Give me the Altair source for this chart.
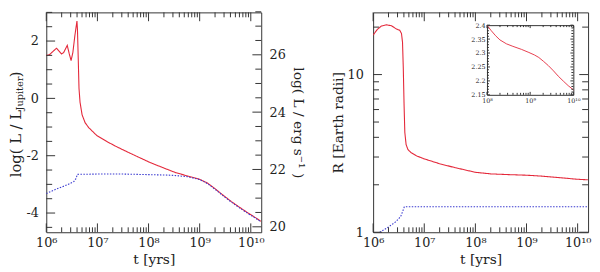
import altair as alt
import numpy as np
import pandas as pd

# ---------------- data ----------------
# left panel: log10(t/yr) and log(L/L_Jupiter)
lum_red_logt = [6.00, 6.06, 6.12, 6.20, 6.25, 6.30, 6.34, 6.41, 6.45, 6.485, 6.52, 6.56, 6.60,
                6.61, 6.625, 6.64, 6.66, 6.70, 6.76, 6.83, 6.99, 7.20, 7.38, 7.60, 8.02, 8.30,
                8.53, 8.75, 8.98, 9.15, 9.30, 9.46, 9.62, 9.78, 9.94, 10.10, 10.20]
lum_red = [1.50, 1.52, 1.62, 1.75, 1.65, 1.55, 1.60, 1.85, 1.55, 1.32, 1.60, 2.20, 2.70,
           2.40, 1.40, 0.35, -0.13, -0.57, -0.85, -1.02, -1.30, -1.52, -1.69, -1.88, -2.23, -2.43,
           -2.59, -2.70, -2.81, -2.95, -3.15, -3.38, -3.60, -3.80, -3.99, -4.17, -4.29]
lum_blue_logt = [6.00, 6.20, 6.42, 6.54, 6.58, 6.61, 7.00, 7.50, 8.00, 8.45, 8.75, 9.00, 9.15,
                 9.30, 9.46, 9.62, 9.78, 9.94, 10.10, 10.20]
lum_blue = [-3.32, -3.16, -3.01, -2.90, -2.80, -2.65, -2.64, -2.64, -2.66, -2.68, -2.73, -2.83,
            -2.97, -3.17, -3.40, -3.62, -3.82, -4.01, -4.19, -4.31]

# right panel: R in Earth radii
rad_red_logt = [6.00, 6.08, 6.16, 6.26, 6.36, 6.45, 6.52, 6.555, 6.575, 6.59, 6.605, 6.62, 6.645,
                6.68, 6.74, 6.85, 7.00, 7.30, 7.60, 8.00, 8.30, 8.60, 9.00, 9.30, 9.60, 10.00, 10.20]
rad_red = [17.8, 19.3, 20.3, 20.7, 20.4, 19.5, 19.1, 18.2, 16.0, 11.0, 6.5, 4.3, 3.6,
           3.35, 3.2, 3.05, 2.92, 2.72, 2.57, 2.40, 2.345, 2.323, 2.30, 2.27, 2.225, 2.168, 2.15]
rad_blue_logt = [6.13, 6.30, 6.45, 6.54, 6.58, 6.61, 10.20]
rad_blue = [1.00, 1.08, 1.17, 1.26, 1.36, 1.45, 1.45]

# inset (R between 1e8 and 1e10 yr)
inset_logt = [8.00, 8.10, 8.20, 8.30, 8.45, 8.60, 8.80, 8.97, 9.10, 9.20, 9.31, 9.42, 9.54,
              9.65, 9.77, 9.88, 10.00]
inset_r = [2.400, 2.380, 2.362, 2.347, 2.333, 2.324, 2.313, 2.302, 2.293, 2.284, 2.270, 2.255,
           2.236, 2.217, 2.199, 2.183, 2.168]

L_JUP_LOG_ERG = 24.48

# tick positions
x_major = [1e6, 1e7, 1e8, 1e9, 1e10]
x_minor = [k * 10.0 ** n for n in range(6, 10) for k in range(2, 10)]
lum_major = [-4, -2, 0, 2]
lum_minor = [v for v in np.arange(-4.5, 3.01, 0.5).round(1).tolist() if v not in lum_major]
erg_major = [20, 22, 24, 26]
erg_minor = [v for v in np.arange(20.0, 27.51, 0.5).round(1).tolist() if v not in erg_major]
r_major = [1, 10]
r_minor = [2, 3, 4, 5, 6, 7, 8, 9, 20]
in_x_major = [1e8, 1e9, 1e10]
in_x_minor = [k * 10.0 ** n for n in range(8, 10) for k in range(2, 10)]
in_y_major = [2.15, 2.2, 2.25, 2.3, 2.35, 2.4]
in_y_minor = [round(2.15 + 0.01 * i, 2) for i in range(26) if i % 5 != 0]

# ---------------- tables ----------------
lum = pd.concat([
    pd.DataFrame({"t": 10 ** np.array(lum_red_logt), "L": lum_red, "s": "a"}),
    pd.DataFrame({"t": 10 ** np.array(lum_blue_logt), "L": lum_blue, "s": "b"}),
], ignore_index=True)
rad = pd.concat([
    pd.DataFrame({"t": 10 ** np.array(rad_red_logt), "R": rad_red, "s": "a"}),
    pd.DataFrame({"t": 10 ** np.array(rad_blue_logt), "R": rad_blue, "s": "b"}),
], ignore_index=True)
ins = pd.DataFrame({"t": 10 ** np.array(inset_logt), "R": inset_r})

RED = "#e4283a"
BLUE = "#3a3ad0"
FONT = "DejaVu Serif"
TICK = "#333"
W, H = 219, 224
MAJ, MIN, YMIN = 9, 5, 6
SUP = ("'10' + ['\u2070','\u00b9','\u00b2','\u00b3','\u2074','\u2075','\u2076','\u2077',"
       "'\u2078','\u2079','\u00b9\u2070'][round(log(datum.value)/LN10)]")
PLAIN = "'' + datum.value"


def ax(**kw):
    d = dict(ticks=False, domain=False, grid=False, labelFlush=False, labelOverlap=False)
    d.update(kw)
    return alt.Axis(**d)


def vticks(vals, scale, y0, y1):
    # tick rules; their axis is left implicit so that it merges with the curve's axis
    return alt.Chart(pd.DataFrame({"v": vals})).mark_rule(color=TICK, strokeWidth=1).encode(
        x=alt.X("v:Q", scale=scale), y=alt.value(y0), y2=alt.value(y1))


def hticks(vals, scale, x0, x1):
    return alt.Chart(pd.DataFrame({"v": vals})).mark_rule(color=TICK, strokeWidth=1).encode(
        y=alt.Y("v:Q", scale=scale), x=alt.value(x0), x2=alt.value(x1))


def xs_main():
    return alt.Scale(type="log", domain=[1e6, 1.6e10], nice=False)


color = alt.Color("s:N", scale=alt.Scale(domain=["a", "b"], range=[RED, BLUE]), legend=None)
dash = alt.StrokeDash("s:N", scale=alt.Scale(domain=["a", "b"], range=[[1, 0], [1.5, 1.5]]),
                      legend=None)


def x_axis():
    return ax(orient="bottom", values=x_major, labelExpr=SUP, labelPadding=5,
              title="t [yrs]", titlePadding=3)


def x_frame_ticks():
    return [vticks(x_major, xs_main(), H, H - MAJ), vticks(x_minor, xs_main(), H, H - MIN),
            vticks(x_major, xs_main(), 0, MAJ), vticks(x_minor, xs_main(), 0, MIN)]


# ---------------- left panel ----------------
def lsc():
    return alt.Scale(domain=[-4.67, 3.0], nice=False, zero=False)


def esc():
    return alt.Scale(domain=[-4.67 + L_JUP_LOG_ERG, 3.0 + L_JUP_LOG_ERG], nice=False, zero=False)


l_lines = alt.Chart(lum).mark_line(strokeWidth=1.1, clip=True).encode(
    x=alt.X("t:Q", scale=xs_main(), axis=x_axis()),
    y=alt.Y("L:Q", scale=lsc(), axis=ax(orient="left", values=lum_major, labelExpr=PLAIN,
                                         labelPadding=8, title=None)),
    color=color, strokeDash=dash)
l_main = alt.layer(l_lines, *x_frame_ticks(),
                   hticks(lum_major, lsc(), 0, MAJ), hticks(lum_minor, lsc(), 0, YMIN))

# same curves on the erg scale (invisible) carry the right-hand axis
l_erg_line = alt.Chart(lum).transform_calculate(Lerg=f"datum.L + {L_JUP_LOG_ERG}").mark_line(
    opacity=0, clip=True).encode(
    x=alt.X("t:Q", scale=xs_main()),
    y=alt.Y("Lerg:Q", scale=esc(), axis=ax(orient="right", values=erg_major, labelExpr=PLAIN,
                                            labelPadding=8, title="log( L / erg s\u207b\u00b9 )",
                                            titleAngle=90, titlePadding=5)),
    detail="s:N")
l_erg = alt.layer(l_erg_line, hticks(erg_major, esc(), W, W - MAJ),
                  hticks(erg_minor, esc(), W, W - YMIN))

one = alt.Data(values=[{}])
t1 = alt.Chart(one).mark_text(text="log( L / L", angle=270, align="left", baseline="middle",
                              font=FONT, fontSize=15, color="#222").encode(
    x=alt.value(-31), y=alt.value(168))
t2 = alt.Chart(one).mark_text(text="Jupiter", angle=270, align="left", baseline="middle",
                              font=FONT, fontSize=10, color="#222").encode(
    x=alt.value(-27), y=alt.value(100))
t3 = alt.Chart(one).mark_text(text=" )", angle=270, align="left", baseline="middle",
                              font=FONT, fontSize=15, color="#222").encode(
    x=alt.value(-31), y=alt.value(66))

left = alt.layer(l_main, l_erg, t1, t2, t3).resolve_scale(y="independent").properties(
    width=W, height=H)

# ---------------- right panel ----------------
def rsc():
    return alt.Scale(type="log", domain=[1, 24.8], nice=False)


r_lines = alt.Chart(rad).mark_line(strokeWidth=1.1, clip=True).encode(
    x=alt.X("t:Q", scale=xs_main(), axis=x_axis()),
    y=alt.Y("R:Q", scale=rsc(), axis=ax(orient="left", values=r_major, labelExpr=PLAIN,
                                         labelPadding=10, title="R [Earth radii]",
                                         titlePadding=2)),
    color=color, strokeDash=dash)
r_main = alt.layer(
    r_lines, *x_frame_ticks(),
    hticks(r_major, rsc(), 0, MAJ), hticks(r_minor, rsc(), 0, YMIN),
    hticks(r_major, rsc(), W, W - MAJ), hticks(r_minor, rsc(), W, W - YMIN))

# inset
IX0, IX1, IY0, IY1 = 116, 204, 84, 13
IMAJ, IMIN = 3, 2


def isx():
    return alt.Scale(type="log", domain=[1e8, 1e10], range=[IX0, IX1], nice=False)


def isy():
    return alt.Scale(domain=[2.15, 2.4], range=[IY0, IY1], nice=False, zero=False)


INSET_AX = dict(domain=True, domainColor=TICK, labelFontSize=6.5, title=None)

i_line = alt.Chart(ins).mark_line(strokeWidth=0.9, color=RED).encode(
    x=alt.X("t:Q", scale=isx(), axis=ax(orient="bottom", values=in_x_major, offset=-(H - IY0),
                                         labelExpr=SUP, labelPadding=3, **INSET_AX)),
    y=alt.Y("R:Q", scale=isy(), axis=ax(orient="left", values=in_y_major, offset=-IX0,
                                         labelExpr=PLAIN, labelPadding=2, **INSET_AX)))
i_low = alt.layer(
    i_line,
    vticks(in_x_major, isx(), IY0, IY0 - IMAJ), vticks(in_x_minor, isx(), IY0, IY0 - IMIN),
    hticks(in_y_major, isy(), IX0, IX0 + IMAJ), hticks(in_y_minor, isy(), IX0, IX0 + IMIN),
)
i_box = alt.Chart(ins).mark_line(opacity=0).encode(
    x=alt.X("t:Q", scale=isx(), axis=ax(orient="top", values=in_x_major, offset=-IY1,
                                         labels=False, **INSET_AX)),
    y=alt.Y("R:Q", scale=isy(), axis=ax(orient="right", values=in_y_major, offset=-(W - IX1),
                                         labels=False, **INSET_AX)))
i_high = alt.layer(
    i_box,
    vticks(in_x_major, isx(), IY1, IY1 + IMAJ), vticks(in_x_minor, isx(), IY1, IY1 + IMIN),
    hticks(in_y_major, isy(), IX1, IX1 - IMAJ), hticks(in_y_minor, isy(), IX1, IX1 - IMIN),
)

right = alt.layer(r_main, i_low, i_high).resolve_scale(
    x="independent", y="independent").properties(width=W, height=H)

chart = alt.hconcat(left, right, spacing=114, bounds="flush").properties(
    padding={"left": 0, "top": 0, "right": 0, "bottom": 0}
).configure_view(stroke=TICK, strokeWidth=1).configure_axis(
    labelFont=FONT, titleFont=FONT, labelFontSize=13, titleFontSize=14,
    labelColor="#222", titleColor="#222", titleFontWeight="normal")

chart.save("out.html", embed_options={"renderer": "svg", "actions": False})
